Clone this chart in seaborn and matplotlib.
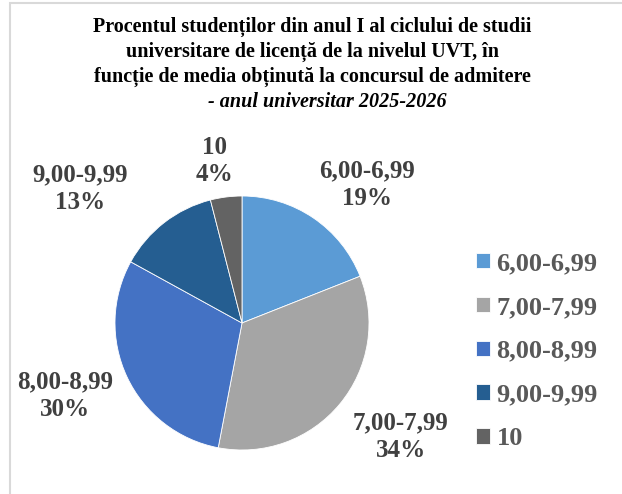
import matplotlib
matplotlib.use("Agg")
import matplotlib.pyplot as plt
import seaborn as sns
from matplotlib.patches import Rectangle

categories = ["6,00-6,99", "7,00-7,99", "8,00-8,99", "9,00-9,99", "10"]
percent = [19, 34, 30, 13, 4]
colors = ["#5B9BD5", "#A5A5A5", "#4472C4", "#255E91", "#636363"]

title_lines = [
    "Procentul studenților din anul I al ciclului de studii",
    "universitare de licență de la nivelul UVT, în",
    "funcție de media obținută la concursul de admitere",
]
title_sub = "- anul universitar 2025-2026"

# label positions (data units, pie radius = 1)
label_pos = [(0.984, 1.087), (1.25, -0.898), (-1.394, -0.575), (-1.276, 1.055), (-0.213, 1.276)]

sns.set_theme(style="white")
plt.rcParams["font.family"] = ["Liberation Serif", "DejaVu Serif"]

W, H = 622, 494
fig = plt.figure(figsize=(W / 100, H / 100), dpi=100)
cx, cy, r = 242, 323, 127
ax = fig.add_axes([(cx - r) / W, (H - cy - r) / H, 2 * r / W, 2 * r / H])
palette = sns.color_palette(colors)
wedges, _ = ax.pie(percent, colors=palette, startangle=90, counterclock=False,
                   radius=1, wedgeprops=dict(edgecolor="white", linewidth=0.6))
ax.set_xlim(-1, 1)
ax.set_ylim(-1, 1)
ax.set_aspect("equal")
ax.axis("off")

for cat, p, (x, y) in zip(categories, percent, label_pos):
    ax.text(x, y, f"{cat}\n{p}%", ha="center", va="center", fontsize=18,
            fontweight="bold", color="#404040", linespacing=1.25, clip_on=False)

leg = fig.legend(wedges, categories, loc="upper left", bbox_to_anchor=(476 / W, 1 - 252 / H),
                 frameon=False, fontsize=19, handlelength=0.53, handleheight=0.53,
                 handletextpad=0.25, labelspacing=0.79, borderpad=0, borderaxespad=0)
for t in leg.get_texts():
    t.set_fontweight("bold")
    t.set_color("#595959")

ys = [27, 52, 77]
for line, y in zip(title_lines, ys):
    fig.text(312 / W, 1 - y / H, line, ha="center", va="center", fontsize=14.5,
             fontweight="bold", color="black")
fig.text(327 / W, 1 - 102 / H, title_sub, ha="center", va="center", fontsize=14.5,
         fontweight="bold", fontstyle="italic", color="black")

fig.patches.append(Rectangle((10 / W, -0.1), 2, 1.1 - 3 / H, transform=fig.transFigure,
                             fill=False, edgecolor="#D9D9D9", linewidth=1.5))

fig.savefig("out.png", dpi=100)
